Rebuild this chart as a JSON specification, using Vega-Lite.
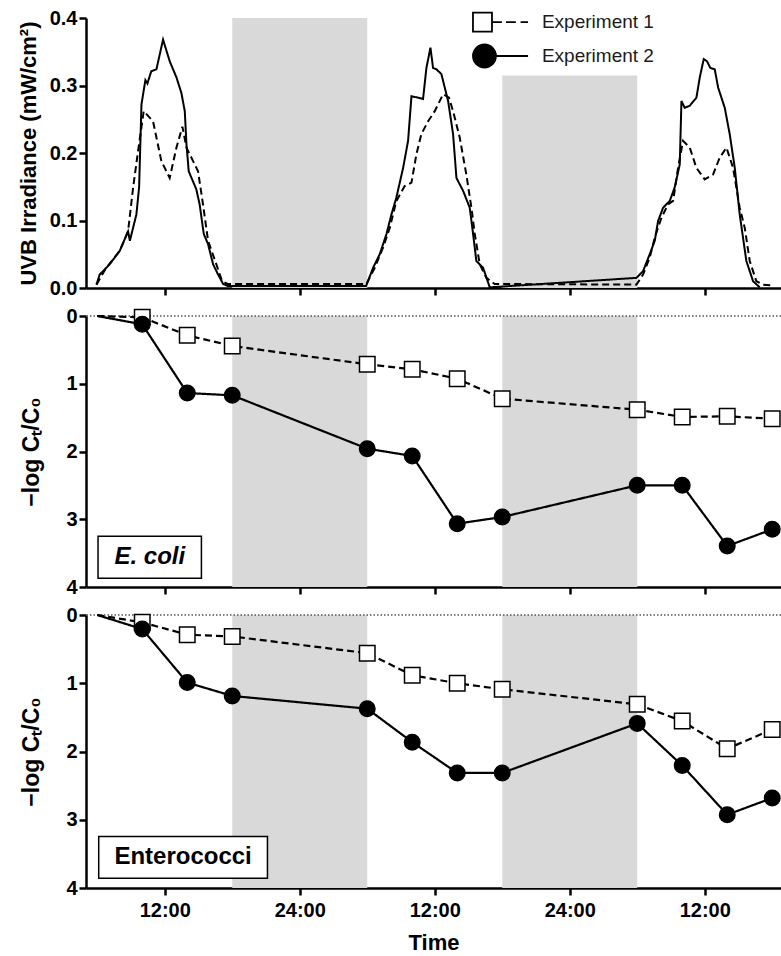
{
"$schema": "https://vega.github.io/schema/vega-lite/v6.json",
"padding": {"left": 16, "top": 8, "right": 0, "bottom": 0},
"background": "white",
"spacing": 28,
"bounds": "flush",
"config": {
 "font": "Liberation Sans",
 "view": {"stroke": null},
 "axis": {"domain": true, "ticks": true, "domainColor": "#000000", "domainWidth": 2.5, "domainOpacity": 1, "tickColor": "#000000", "tickOpacity": 1, "tickWidth": 2.5, "tickSize": 7, "zindex": 1,
  "labelFont": "Liberation Sans", "labelFontWeight": "bold", "labelFontSize": 20, "labelColor": "black",
  "titleFont": "Liberation Sans", "titleFontSize": 22, "titleFontWeight": "bold", "titleColor": "black",
  "grid": false, "labelPadding": 2}
},
"datasets": {
 "bands": [{"start": 18, "end": 30}, {"start": 42, "end": 54}],
 "labels": [{"org": "E. coli", "label": "E. coli"}, {"org": "Enterococci", "label": "Enterococci"}],
 "legend": [{"exp": "Experiment 1"}, {"exp": "Experiment 2"}],
 "uvb": [
  {"exp":"Experiment 2","t":5.93,"v":0.005},{"exp":"Experiment 2","t":6.22,"v":0.02},{"exp":"Experiment 2","t":7.1,"v":0.035},{"exp":"Experiment 2","t":8.0,"v":0.055},{"exp":"Experiment 2","t":8.74,"v":0.084},{"exp":"Experiment 2","t":8.9,"v":0.07},{"exp":"Experiment 2","t":9.48,"v":0.109},{"exp":"Experiment 2","t":9.72,"v":0.149},{"exp":"Experiment 2","t":9.93,"v":0.272},{"exp":"Experiment 2","t":10.28,"v":0.308},{"exp":"Experiment 2","t":10.46,"v":0.303},{"exp":"Experiment 2","t":10.8,"v":0.321},{"exp":"Experiment 2","t":11.26,"v":0.324},{"exp":"Experiment 2","t":11.85,"v":0.368},{"exp":"Experiment 2","t":12.44,"v":0.336},{"exp":"Experiment 2","t":13.04,"v":0.312},{"exp":"Experiment 2","t":13.48,"v":0.289},{"exp":"Experiment 2","t":13.78,"v":0.262},{"exp":"Experiment 2","t":13.93,"v":0.213},{"exp":"Experiment 2","t":14.13,"v":0.173},{"exp":"Experiment 2","t":14.81,"v":0.146},{"exp":"Experiment 2","t":15.1,"v":0.124},{"exp":"Experiment 2","t":15.47,"v":0.08},{"exp":"Experiment 2","t":15.85,"v":0.065},{"exp":"Experiment 2","t":16.3,"v":0.035},{"exp":"Experiment 2","t":16.74,"v":0.02},{"exp":"Experiment 2","t":17.19,"v":0.006},{"exp":"Experiment 2","t":17.6,"v":0.003},{"exp":"Experiment 2","t":29.9,"v":0.003},
  {"exp":"Experiment 2","t":30.52,"v":0.03},{"exp":"Experiment 2","t":31.11,"v":0.05},{"exp":"Experiment 2","t":31.71,"v":0.08},{"exp":"Experiment 2","t":32.15,"v":0.109},{"exp":"Experiment 2","t":32.59,"v":0.134},{"exp":"Experiment 2","t":33.19,"v":0.178},{"exp":"Experiment 2","t":33.63,"v":0.218},{"exp":"Experiment 2","t":33.93,"v":0.284},{"exp":"Experiment 2","t":34.52,"v":0.282},{"exp":"Experiment 2","t":34.96,"v":0.28},{"exp":"Experiment 2","t":35.26,"v":0.326},{"exp":"Experiment 2","t":35.62,"v":0.356},{"exp":"Experiment 2","t":35.85,"v":0.326},{"exp":"Experiment 2","t":36.15,"v":0.324},{"exp":"Experiment 2","t":36.59,"v":0.317},{"exp":"Experiment 2","t":37.19,"v":0.277},{"exp":"Experiment 2","t":37.63,"v":0.228},{"exp":"Experiment 2","t":37.93,"v":0.163},{"exp":"Experiment 2","t":38.52,"v":0.144},{"exp":"Experiment 2","t":39.11,"v":0.119},{"exp":"Experiment 2","t":39.41,"v":0.08},{"exp":"Experiment 2","t":39.7,"v":0.04},{"exp":"Experiment 2","t":40.3,"v":0.03},{"exp":"Experiment 2","t":40.89,"v":0.001},{"exp":"Experiment 2","t":53.93,"v":0.015},
  {"exp":"Experiment 2","t":54.52,"v":0.025},{"exp":"Experiment 2","t":55.11,"v":0.05},{"exp":"Experiment 2","t":55.56,"v":0.07},{"exp":"Experiment 2","t":55.85,"v":0.099},{"exp":"Experiment 2","t":56.3,"v":0.119},{"exp":"Experiment 2","t":56.89,"v":0.129},{"exp":"Experiment 2","t":57.33,"v":0.149},{"exp":"Experiment 2","t":57.78,"v":0.183},{"exp":"Experiment 2","t":57.93,"v":0.277},{"exp":"Experiment 2","t":58.22,"v":0.267},{"exp":"Experiment 2","t":58.67,"v":0.27},{"exp":"Experiment 2","t":59.26,"v":0.282},{"exp":"Experiment 2","t":59.56,"v":0.312},{"exp":"Experiment 2","t":59.91,"v":0.339},{"exp":"Experiment 2","t":60.2,"v":0.336},{"exp":"Experiment 2","t":60.5,"v":0.326},{"exp":"Experiment 2","t":60.89,"v":0.324},{"exp":"Experiment 2","t":61.19,"v":0.297},{"exp":"Experiment 2","t":61.78,"v":0.267},{"exp":"Experiment 2","t":62.22,"v":0.228},{"exp":"Experiment 2","t":62.67,"v":0.178},{"exp":"Experiment 2","t":63.11,"v":0.109},{"exp":"Experiment 2","t":63.7,"v":0.04},{"exp":"Experiment 2","t":64.3,"v":0.01},{"exp":"Experiment 2","t":64.89,"v":0.001},
  {"exp":"Experiment 1","t":5.93,"v":0.005},{"exp":"Experiment 1","t":6.8,"v":0.03},{"exp":"Experiment 1","t":8.0,"v":0.055},{"exp":"Experiment 1","t":8.74,"v":0.084},{"exp":"Experiment 1","t":9.19,"v":0.149},{"exp":"Experiment 1","t":9.63,"v":0.203},{"exp":"Experiment 1","t":10.13,"v":0.262},{"exp":"Experiment 1","t":10.52,"v":0.255},{"exp":"Experiment 1","t":10.96,"v":0.247},{"exp":"Experiment 1","t":11.7,"v":0.188},{"exp":"Experiment 1","t":12.44,"v":0.163},{"exp":"Experiment 1","t":13.04,"v":0.208},{"exp":"Experiment 1","t":13.57,"v":0.239},{"exp":"Experiment 1","t":13.93,"v":0.208},{"exp":"Experiment 1","t":14.52,"v":0.188},{"exp":"Experiment 1","t":14.96,"v":0.173},{"exp":"Experiment 1","t":15.4,"v":0.124},{"exp":"Experiment 1","t":15.85,"v":0.07},{"exp":"Experiment 1","t":16.59,"v":0.035},{"exp":"Experiment 1","t":17.1,"v":0.01},{"exp":"Experiment 1","t":17.6,"v":0.006},{"exp":"Experiment 1","t":29.93,"v":0.006},
  {"exp":"Experiment 1","t":30.67,"v":0.03},{"exp":"Experiment 1","t":31.41,"v":0.06},{"exp":"Experiment 1","t":32.0,"v":0.089},{"exp":"Experiment 1","t":32.59,"v":0.129},{"exp":"Experiment 1","t":33.33,"v":0.151},{"exp":"Experiment 1","t":33.93,"v":0.156},{"exp":"Experiment 1","t":34.37,"v":0.198},{"exp":"Experiment 1","t":34.81,"v":0.228},{"exp":"Experiment 1","t":35.41,"v":0.247},{"exp":"Experiment 1","t":36.0,"v":0.262},{"exp":"Experiment 1","t":36.74,"v":0.287},{"exp":"Experiment 1","t":37.27,"v":0.282},{"exp":"Experiment 1","t":37.63,"v":0.262},{"exp":"Experiment 1","t":38.22,"v":0.223},{"exp":"Experiment 1","t":38.81,"v":0.168},{"exp":"Experiment 1","t":39.26,"v":0.119},{"exp":"Experiment 1","t":39.56,"v":0.08},{"exp":"Experiment 1","t":40.0,"v":0.035},{"exp":"Experiment 1","t":40.59,"v":0.015},{"exp":"Experiment 1","t":41.33,"v":0.006},{"exp":"Experiment 1","t":53.93,"v":0.005},
  {"exp":"Experiment 1","t":54.52,"v":0.02},{"exp":"Experiment 1","t":55.11,"v":0.045},{"exp":"Experiment 1","t":55.56,"v":0.075},{"exp":"Experiment 1","t":56.15,"v":0.104},{"exp":"Experiment 1","t":56.74,"v":0.124},{"exp":"Experiment 1","t":57.19,"v":0.129},{"exp":"Experiment 1","t":57.63,"v":0.178},{"exp":"Experiment 1","t":58.07,"v":0.218},{"exp":"Experiment 1","t":58.67,"v":0.208},{"exp":"Experiment 1","t":59.26,"v":0.178},{"exp":"Experiment 1","t":60.0,"v":0.161},{"exp":"Experiment 1","t":60.74,"v":0.168},{"exp":"Experiment 1","t":61.33,"v":0.193},{"exp":"Experiment 1","t":61.93,"v":0.208},{"exp":"Experiment 1","t":62.52,"v":0.178},{"exp":"Experiment 1","t":63.11,"v":0.119},{"exp":"Experiment 1","t":63.56,"v":0.089},{"exp":"Experiment 1","t":64.0,"v":0.04},{"exp":"Experiment 1","t":64.59,"v":0.01},{"exp":"Experiment 1","t":65.19,"v":0.005},{"exp":"Experiment 1","t":65.93,"v":0.004}
 ],
 "bact": [
  {"org":"E. coli","exp":"Experiment 1","t":6,"v":0},{"org":"E. coli","exp":"Experiment 1","t":10,"v":0.02},{"org":"E. coli","exp":"Experiment 1","t":14,"v":0.285},{"org":"E. coli","exp":"Experiment 1","t":18,"v":0.443},{"org":"E. coli","exp":"Experiment 1","t":30,"v":0.713},{"org":"E. coli","exp":"Experiment 1","t":34,"v":0.787},{"org":"E. coli","exp":"Experiment 1","t":38,"v":0.925},{"org":"E. coli","exp":"Experiment 1","t":42,"v":1.22},{"org":"E. coli","exp":"Experiment 1","t":54,"v":1.383},{"org":"E. coli","exp":"Experiment 1","t":58,"v":1.49},{"org":"E. coli","exp":"Experiment 1","t":62,"v":1.481},{"org":"E. coli","exp":"Experiment 1","t":66,"v":1.515},
  {"org":"E. coli","exp":"Experiment 2","t":6,"v":0},{"org":"E. coli","exp":"Experiment 2","t":10,"v":0.123},{"org":"E. coli","exp":"Experiment 2","t":14,"v":1.137},{"org":"E. coli","exp":"Experiment 2","t":18,"v":1.171},{"org":"E. coli","exp":"Experiment 2","t":30,"v":1.958},{"org":"E. coli","exp":"Experiment 2","t":34,"v":2.066},{"org":"E. coli","exp":"Experiment 2","t":38,"v":3.065},{"org":"E. coli","exp":"Experiment 2","t":42,"v":2.967},{"org":"E. coli","exp":"Experiment 2","t":54,"v":2.499},{"org":"E. coli","exp":"Experiment 2","t":58,"v":2.499},{"org":"E. coli","exp":"Experiment 2","t":62,"v":3.395},{"org":"E. coli","exp":"Experiment 2","t":66,"v":3.149},
  {"org":"Enterococci","exp":"Experiment 1","t":6,"v":0},{"org":"Enterococci","exp":"Experiment 1","t":10,"v":0.108},{"org":"Enterococci","exp":"Experiment 1","t":14,"v":0.289},{"org":"Enterococci","exp":"Experiment 1","t":18,"v":0.314},{"org":"Enterococci","exp":"Experiment 1","t":30,"v":0.559},{"org":"Enterococci","exp":"Experiment 1","t":34,"v":0.882},{"org":"Enterococci","exp":"Experiment 1","t":38,"v":1.0},{"org":"Enterococci","exp":"Experiment 1","t":42,"v":1.088},{"org":"Enterococci","exp":"Experiment 1","t":54,"v":1.309},{"org":"Enterococci","exp":"Experiment 1","t":58,"v":1.554},{"org":"Enterococci","exp":"Experiment 1","t":62,"v":1.961},{"org":"Enterococci","exp":"Experiment 1","t":66,"v":1.676},
  {"org":"Enterococci","exp":"Experiment 2","t":6,"v":0},{"org":"Enterococci","exp":"Experiment 2","t":10,"v":0.206},{"org":"Enterococci","exp":"Experiment 2","t":14,"v":0.99},{"org":"Enterococci","exp":"Experiment 2","t":18,"v":1.186},{"org":"Enterococci","exp":"Experiment 2","t":30,"v":1.373},{"org":"Enterococci","exp":"Experiment 2","t":34,"v":1.863},{"org":"Enterococci","exp":"Experiment 2","t":38,"v":2.314},{"org":"Enterococci","exp":"Experiment 2","t":42,"v":2.314},{"org":"Enterococci","exp":"Experiment 2","t":54,"v":1.588},{"org":"Enterococci","exp":"Experiment 2","t":58,"v":2.206},{"org":"Enterococci","exp":"Experiment 2","t":62,"v":2.926},{"org":"Enterococci","exp":"Experiment 2","t":66,"v":2.681}
 ]
},
"vconcat": [
 {
  "width": 695, "height": 270,
  "layer": [
   {"data": {"name": "bands"}, "transform": [{"filter": "datum.start === 18"}],
    "mark": {"type": "rect", "color": "#d9d9d9"},
    "encoding": {"x": {"field": "start", "type": "quantitative", "scale": {"domain": [5, 66.78], "nice": false}, "axis": {"values": [12,24,36,48,60], "labels": false, "title": null}},
     "x2": {"field": "end"},
     "y": {"datum": 0, "type": "quantitative", "scale": {"domain": [0, 0.4], "nice": false}, "axis": {"values": [0,0.1,0.2,0.3,0.4], "format": ".1f", "title": "UVB Irradiance (mW/cm²)", "titleX": -46}},
     "y2": {"datum": 0.4}}},
   {"data": {"name": "bands"}, "transform": [{"filter": "datum.start === 42"}],
    "mark": {"type": "rect", "color": "#d9d9d9"},
    "encoding": {"x": {"field": "start", "type": "quantitative"}, "x2": {"field": "end"},
     "y": {"datum": 0, "type": "quantitative"}, "y2": {"datum": 0.315}}},
   {"data": {"name": "uvb"},
    "mark": {"type": "line", "color": "black", "strokeWidth": 2},
    "encoding": {"x": {"field": "t", "type": "quantitative"}, "y": {"field": "v", "type": "quantitative"},
     "detail": {"field": "exp"},
     "strokeDash": {"field": "exp", "type": "nominal", "scale": {"domain": ["Experiment 1", "Experiment 2"], "range": [[7,4],[1,0]]}, "legend": null}}},
   {"data": {"name": "legend"}, "transform": [{"filter": "datum.exp === 'Experiment 1'"}],
    "mark": {"type": "point", "shape": "M-1,-0.559H0.118V0.559H-1Z M0.118,0H0.7 M0.94,0H1.52 M1.8,0H2.24", "size": 1156, "filled": true, "fill": "white", "stroke": "black", "strokeWidth": 1.8, "opacity": 1},
    "encoding": {"x": {"datum": 40.91, "type": "quantitative"}, "y": {"datum": 0.394, "type": "quantitative"}}},
   {"data": {"name": "legend"}, "transform": [{"filter": "datum.exp === 'Experiment 2'"}],
    "mark": {"type": "point", "shape": "M-1,0C-1,-0.373 -0.697,-0.676 -0.324,-0.676C0.049,-0.676 0.352,-0.373 0.352,0C0.352,0.373 0.049,0.676 -0.324,0.676C-0.697,0.676 -1,0.373 -1,0Z M0.352,0H2.24", "size": 1156, "filled": true, "fill": "black", "stroke": "black", "strokeWidth": 1.8, "opacity": 1},
    "encoding": {"x": {"datum": 40.91, "type": "quantitative"}, "y": {"datum": 0.3437, "type": "quantitative"}}},
   {"data": {"name": "legend"}, "transform": [{"filter": "datum.exp === 'Experiment 1'"}],
    "mark": {"type": "text", "font": "Liberation Sans", "fontSize": 19, "align": "left", "baseline": "middle", "color": "#1a1a1a"},
    "encoding": {"x": {"datum": 45.53, "type": "quantitative"}, "y": {"datum": 0.394, "type": "quantitative"}, "text": {"field": "exp"}}},
   {"data": {"name": "legend"}, "transform": [{"filter": "datum.exp === 'Experiment 2'"}],
    "mark": {"type": "text", "font": "Liberation Sans", "fontSize": 19, "align": "left", "baseline": "middle", "color": "#1a1a1a"},
    "encoding": {"x": {"datum": 45.53, "type": "quantitative"}, "y": {"datum": 0.3437, "type": "quantitative"}, "text": {"field": "exp"}}}
  ]
 },
 {
  "width": 695, "height": 271,
  "layer": [
   {"data": {"name": "bands"},
    "mark": {"type": "rect", "color": "#d9d9d9"},
    "encoding": {"x": {"field": "start", "type": "quantitative", "scale": {"domain": [5, 66.78], "nice": false}, "axis": {"values": [12,24,36,48,60], "labels": false, "title": null}},
     "x2": {"field": "end"},
     "y": {"datum": 0, "type": "quantitative", "scale": {"domain": [0, 4], "nice": false, "reverse": true}, "axis": {"values": [0,1,2,3,4], "format": "d", "title": "−log Cₜ/C₀", "titleFontSize": 23, "titleX": -43}},
     "y2": {"datum": 4}}},
   {"data": {"name": "labels"}, "transform": [{"filter": "datum.org === 'E. coli'"}],
    "mark": {"type": "rule", "color": "#555", "strokeDash": [1.5, 2], "strokeWidth": 1.5, "opacity": 1, "strokeOpacity": 1},
    "encoding": {"y": {"datum": 0, "type": "quantitative"}}},
   {"data": {"name": "labels"}, "transform": [{"filter": "datum.org === 'E. coli'"}],
    "mark": {"type": "rect", "fill": "white", "stroke": "black", "strokeWidth": 1.5},
    "encoding": {"x": {"datum": 6.07, "type": "quantitative"}, "x2": {"datum": 15.26}, "y": {"datum": 3.25, "type": "quantitative"}, "y2": {"datum": 3.87}}},
   {"data": {"name": "labels"}, "transform": [{"filter": "datum.org === 'E. coli'"}],
    "mark": {"type": "text", "fontSize": 24, "fontWeight": "bold", "fontStyle": "italic", "align": "center", "baseline": "middle", "color": "black"},
    "encoding": {"x": {"datum": 10.67, "type": "quantitative"}, "y": {"datum": 3.56, "type": "quantitative"}, "text": {"field": "label"}}},
   {"data": {"name": "bact"}, "transform": [{"filter": "datum.org === 'E. coli'"}],
    "mark": {"type": "line", "color": "black", "strokeWidth": 2.2},
    "encoding": {"x": {"field": "t", "type": "quantitative"}, "y": {"field": "v", "type": "quantitative"},
     "detail": {"field": "exp"},
     "strokeDash": {"field": "exp", "type": "nominal", "scale": {"domain": ["Experiment 1", "Experiment 2"], "range": [[9,5],[1,0]]}, "legend": null}}},
   {"data": {"name": "bact"}, "transform": [{"filter": "datum.org === 'E. coli' && datum.t > 6"}],
    "mark": {"type": "point", "filled": true, "stroke": "black", "strokeWidth": 1.5, "size": 240, "opacity": 1},
    "encoding": {"x": {"field": "t", "type": "quantitative"}, "y": {"field": "v", "type": "quantitative"},
     "fill": {"field": "exp", "type": "nominal", "scale": {"domain": ["Experiment 1", "Experiment 2"], "range": ["white", "black"]}, "legend": null},
     "shape": {"field": "exp", "type": "nominal", "scale": {"domain": ["Experiment 1", "Experiment 2"], "range": ["square", "circle"]}, "legend": null}}}
  ]
 },
 {
  "width": 695, "height": 273,
  "layer": [
   {"data": {"name": "bands"},
    "mark": {"type": "rect", "color": "#d9d9d9"},
    "encoding": {"x": {"field": "start", "type": "quantitative", "scale": {"domain": [5, 66.78], "nice": false}, "axis": {"values": [12,24,36,48,60], "labelExpr": "datum.value % 24 === 0 ? '24:00' : '12:00'", "title": "Time", "labelPadding": 5, "titlePadding": 12}},
     "x2": {"field": "end"},
     "y": {"datum": 0, "type": "quantitative", "scale": {"domain": [0, 4], "nice": false, "reverse": true}, "axis": {"values": [0,1,2,3,4], "format": "d", "title": "−log Cₜ/C₀", "titleFontSize": 23, "titleX": -43}},
     "y2": {"datum": 4}}},
   {"data": {"name": "labels"}, "transform": [{"filter": "datum.org === 'Enterococci'"}],
    "mark": {"type": "rule", "color": "#555", "strokeDash": [1.5, 2], "strokeWidth": 1.5, "opacity": 1, "strokeOpacity": 1},
    "encoding": {"y": {"datum": 0, "type": "quantitative"}}},
   {"data": {"name": "labels"}, "transform": [{"filter": "datum.org === 'Enterococci'"}],
    "mark": {"type": "rect", "fill": "white", "stroke": "black", "strokeWidth": 1.5},
    "encoding": {"x": {"datum": 6.13, "type": "quantitative"}, "x2": {"datum": 21.13}, "y": {"datum": 3.245, "type": "quantitative"}, "y2": {"datum": 3.857}}},
   {"data": {"name": "labels"}, "transform": [{"filter": "datum.org === 'Enterococci'"}],
    "mark": {"type": "text", "fontSize": 24, "fontWeight": "bold", "align": "center", "baseline": "middle", "color": "black"},
    "encoding": {"x": {"datum": 13.63, "type": "quantitative"}, "y": {"datum": 3.55, "type": "quantitative"}, "text": {"field": "label"}}},
   {"data": {"name": "bact"}, "transform": [{"filter": "datum.org === 'Enterococci'"}],
    "mark": {"type": "line", "color": "black", "strokeWidth": 2.2},
    "encoding": {"x": {"field": "t", "type": "quantitative"}, "y": {"field": "v", "type": "quantitative"},
     "detail": {"field": "exp"},
     "strokeDash": {"field": "exp", "type": "nominal", "scale": {"domain": ["Experiment 1", "Experiment 2"], "range": [[9,5],[1,0]]}, "legend": null}}},
   {"data": {"name": "bact"}, "transform": [{"filter": "datum.org === 'Enterococci' && datum.t > 6"}],
    "mark": {"type": "point", "filled": true, "stroke": "black", "strokeWidth": 1.5, "size": 240, "opacity": 1},
    "encoding": {"x": {"field": "t", "type": "quantitative"}, "y": {"field": "v", "type": "quantitative"},
     "fill": {"field": "exp", "type": "nominal", "scale": {"domain": ["Experiment 1", "Experiment 2"], "range": ["white", "black"]}, "legend": null},
     "shape": {"field": "exp", "type": "nominal", "scale": {"domain": ["Experiment 1", "Experiment 2"], "range": ["square", "circle"]}, "legend": null}}}
  ]
 }
]
}
